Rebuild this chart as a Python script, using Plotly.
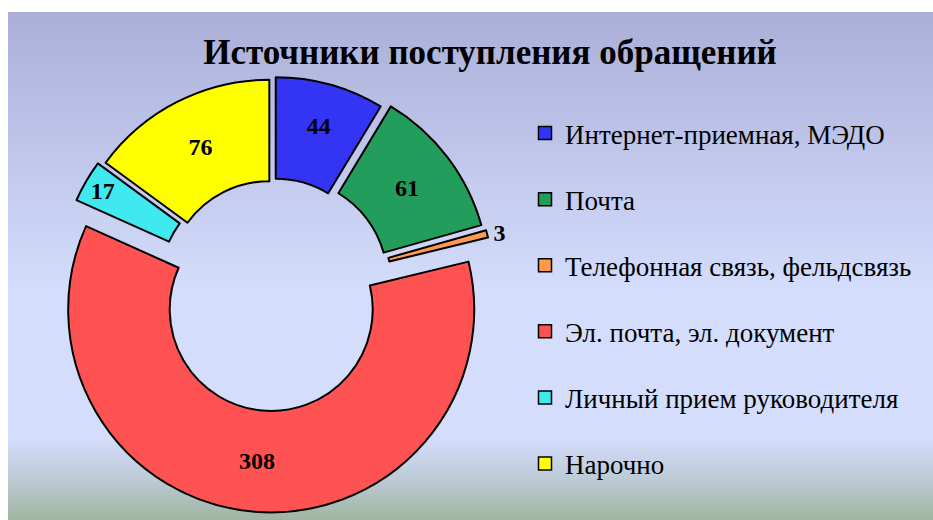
import base64
import plotly.graph_objects as go

# ---- data ----
categories = ["Интернет-приемная, МЭДО", "Почта", "Телефонная связь, фельдсвязь",
              "Эл. почта, эл. документ", "Личный прием руководителя", "Нарочно"]
values = [44, 61, 3, 308, 17, 76]
colors = ["#3434F4", "#229D5C", "#FF9A4A", "#FF5252", "#40E8F0", "#FFFF00"]
pulls = [0.05, 0.08, 0.09, 0.096, 0.065, 0.04]
text_positions = ["inside", "inside", "outside", "inside", "inside", "inside"]
title_text = "Источники поступления обращений"

W, H = 933, 520
SERIF = "Liberation Serif, Times New Roman, serif"

# gradient background (SVG data URI)
stops = [(0.0, "#ABAFD8"), (0.55, "#D4DDFC"), (0.84, "#D4DDFC"), (0.92, "#BCCAD6"), (1.0, "#9FB69F")]
stop_xml = "".join(f"<stop offset='{o}' stop-color='{c}'/>" for o, c in stops)
svg = ("<svg xmlns='http://www.w3.org/2000/svg' width='925' height='508' preserveAspectRatio='none'>"
       "<defs><linearGradient id='g' x1='0' y1='0' x2='0' y2='1'>" + stop_xml +
       "</linearGradient></defs><rect width='925' height='508' fill='url(#g)'/></svg>")
svg_uri = "data:image/svg+xml;base64," + base64.b64encode(svg.encode()).decode()

fig = go.Figure()

fig.add_trace(go.Pie(
    labels=categories,
    values=values,
    sort=False,
    direction="clockwise",
    rotation=0,
    hole=0.5,
    pull=pulls,
    marker=dict(colors=colors, line=dict(color="black", width=2)),
    textinfo="value",
    textposition=text_positions,
    insidetextorientation="horizontal",
    textfont=dict(family=SERIF, size=24, color="black", weight="bold"),
    showlegend=False,
    domain=dict(x=[50.5 / W, 495.5 / W], y=[7.5 / H, 452.5 / H]),
))

# legend entries (one per category, each in its own group for spacing)
for cat, col in zip(categories, colors):
    fig.add_trace(go.Scatter(
        x=[0], y=[0], mode="markers", name=cat, legendgroup=cat,
        marker=dict(symbol="square", size=13, color=col, line=dict(color="black", width=1.5)),
        hoverinfo="skip",
    ))

fig.update_layout(
    width=W, height=H,
    margin=dict(l=0, r=0, t=0, b=0, autoexpand=False),
    paper_bgcolor="white",
    plot_bgcolor="rgba(0,0,0,0)",
    xaxis=dict(visible=False, range=[1, 2]),
    yaxis=dict(visible=False, range=[1, 2]),
    title=dict(text="<b>" + title_text + "</b>", x=490 / W, xanchor="center",
               y=1 - 52 / H, yanchor="middle", yref="container",
               font=dict(family=SERIF, size=35, color="black")),
    legend=dict(x=525 / W, xanchor="left", y=1 - 109 / H, yanchor="top",
                bgcolor="rgba(0,0,0,0)", tracegroupgap=28,
                font=dict(family=SERIF, size=27, color="black")),
    uniformtext=dict(minsize=24, mode="show"),
    images=[dict(source=svg_uri, xref="paper", yref="paper", x=8 / W, y=1 - 12 / H,
                 sizex=925 / W, sizey=508 / H, xanchor="left", yanchor="top",
                 sizing="stretch", layer="below")],
)

fig.write_html("out.html")
